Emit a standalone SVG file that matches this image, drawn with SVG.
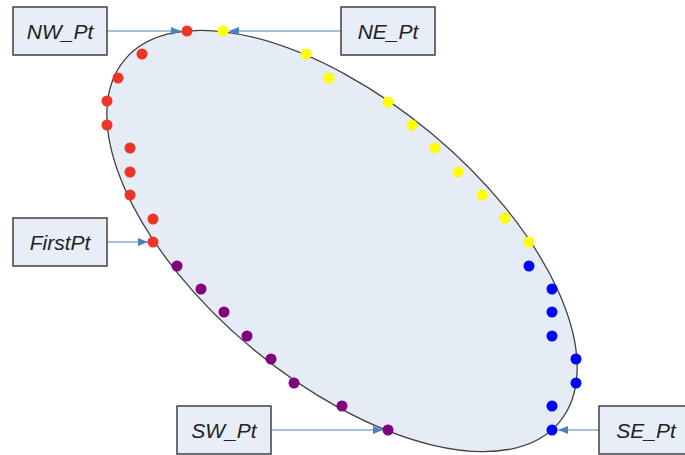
<svg xmlns="http://www.w3.org/2000/svg" width="685" height="455" viewBox="0 0 685 455">
<defs>
<style>
.box{fill:#E8EEF8;stroke:#404040;stroke-width:1.5}
.lbl{font-family:"Liberation Sans",Arial,sans-serif;font-style:italic;font-size:21px;fill:#222;text-anchor:middle}
.conn{stroke:#4F81BD;stroke-width:1.2;fill:none;marker-end:url(#ah)}
.r{fill:#EE3524}.y{fill:#FFFF00}.b{fill:#0000FF}.p{fill:#800080}
</style>
<marker id="ah" markerUnits="userSpaceOnUse" markerWidth="11" markerHeight="9" refX="10" refY="4" orient="auto">
<path d="M0,0 L10,4 L0,8 z" fill="#4F81BD"/>
</marker>
</defs>
<rect width="685" height="455" fill="#fff"/>
<g id="ellipse">
<ellipse cx="342" cy="241" rx="283" ry="140" transform="rotate(39.8 342 241)" fill="#E6ECF6" stroke="#404040" stroke-width="1.3"/>
</g>
<g id="dots">
<g class="r">
<circle cx="187" cy="31" r="5.5"/><circle cx="142" cy="54" r="5.5"/><circle cx="118" cy="78" r="5.5"/><circle cx="107" cy="101" r="5.5"/><circle cx="107" cy="125" r="5.5"/><circle cx="130" cy="148" r="5.5"/><circle cx="130" cy="172" r="5.5"/><circle cx="130" cy="195" r="5.5"/><circle cx="153" cy="219" r="5.5"/><circle cx="153" cy="242" r="5.5"/>
</g>
<g class="p">
<circle cx="177" cy="266" r="5.5"/><circle cx="201" cy="289" r="5.5"/><circle cx="224" cy="312" r="5.5"/><circle cx="247" cy="336" r="5.5"/><circle cx="271" cy="359" r="5.5"/><circle cx="294" cy="383" r="5.5"/><circle cx="342" cy="406" r="5.5"/><circle cx="388" cy="430" r="5.5"/>
</g>
<g class="y">
<circle cx="223" cy="31" r="5.5"/><circle cx="306" cy="54" r="5.5"/><circle cx="329" cy="78" r="5.5"/><circle cx="388" cy="102" r="5.5"/><circle cx="412" cy="125" r="5.5"/><circle cx="435" cy="148" r="5.5"/><circle cx="458" cy="172" r="5.5"/><circle cx="482" cy="195" r="5.5"/><circle cx="505" cy="218" r="5.5"/><circle cx="529" cy="242" r="5.5"/>
</g>
<g class="b">
<circle cx="529" cy="266" r="5.5"/><circle cx="552" cy="289" r="5.5"/><circle cx="552" cy="312" r="5.5"/><circle cx="552" cy="336" r="5.5"/><circle cx="576" cy="359" r="5.5"/><circle cx="576" cy="383" r="5.5"/><circle cx="552" cy="406" r="5.5"/><circle cx="552" cy="430" r="5.5"/>
</g>
</g>
<g id="connectors">
<line class="conn" x1="107" y1="31" x2="181" y2="31"/>
<line class="conn" x1="341" y1="31" x2="229" y2="31"/>
<line class="conn" x1="107" y1="242" x2="148" y2="242"/>
<line class="conn" x1="271" y1="430" x2="383" y2="430"/>
<line class="conn" x1="599" y1="430" x2="558" y2="430"/>
</g>
<g id="NW_Pt"><rect class="box" x="13" y="7" width="94" height="48"/><text class="lbl" x="60" y="38.5">NW_Pt</text></g>
<g id="NE_Pt"><rect class="box" x="341" y="7" width="94" height="48"/><text class="lbl" x="388" y="38.5">NE_Pt</text></g>
<g id="FirstPt"><rect class="box" x="13" y="218" width="94" height="48"/><text class="lbl" x="60" y="249.5">FirstPt</text></g>
<g id="SW_Pt"><rect class="box" x="177" y="406" width="94" height="48"/><text class="lbl" x="224" y="437.5">SW_Pt</text></g>
<g id="SE_Pt"><rect class="box" x="599" y="406" width="94" height="48"/><text class="lbl" x="646" y="437.5">SE_Pt</text></g>
</svg>
